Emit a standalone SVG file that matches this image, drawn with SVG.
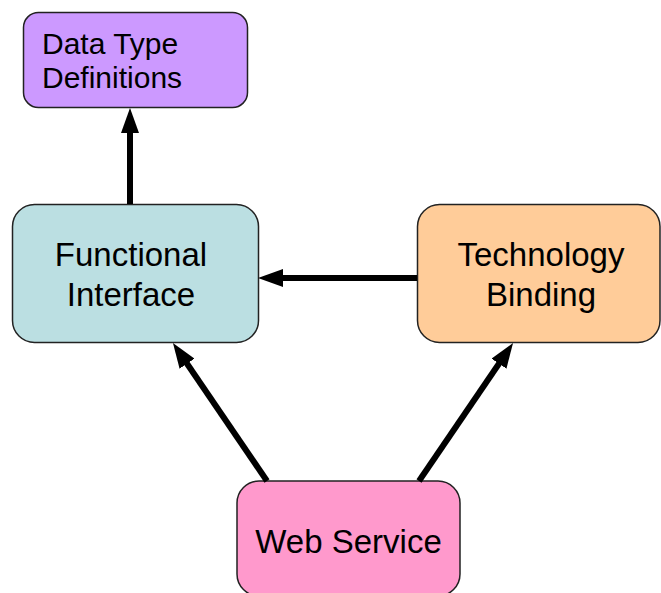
<svg xmlns="http://www.w3.org/2000/svg" width="661" height="593" viewBox="0 0 661 593">
<defs>
<style>
.box{stroke:#222;stroke-width:1.5}
.t{font-family:"Liberation Sans",Arial,sans-serif;fill:#000}
.big{font-size:33px;text-anchor:middle}
.small{font-size:30px}
.c{stroke:#000;stroke-width:6;fill:none}
</style>
<marker id="ah" markerUnits="userSpaceOnUse" markerWidth="26" markerHeight="18" refX="2" refY="9" orient="auto">
<path d="M0,0 L25,9 L0,18 z" fill="#000"/>
</marker>
</defs>
<rect width="661" height="593" fill="#fff"/>
<g id="dtd">
<rect class="box" x="23.5" y="12.5" width="224" height="95" rx="15" fill="#CC99FF"/>
<text class="t small" x="42" y="54">Data Type</text>
<text class="t small" x="42" y="88">Definitions</text>
</g>
<g id="fi">
<rect class="box" x="12.5" y="204.5" width="246" height="138" rx="22" fill="#BBDFE2"/>
<text class="t big" x="131" y="266">Functional</text>
<text class="t big" x="131" y="306">Interface</text>
</g>
<g id="tb">
<rect class="box" x="417.5" y="204.5" width="242.5" height="138" rx="22" fill="#FFCC99"/>
<text class="t big" x="541" y="266">Technology</text>
<text class="t big" x="541" y="306">Binding</text>
</g>
<g id="ws">
<rect class="box" x="237" y="481" width="223" height="115" rx="22" fill="#FF99CC"/>
<text class="t big" x="348.5" y="553">Web Service</text>
</g>
<g id="connectors">
<line class="c" x1="130" y1="204" x2="130" y2="131" marker-end="url(#ah)"/>
<line class="c" x1="417" y1="278" x2="281" y2="278" marker-end="url(#ah)"/>
<line class="c" x1="267" y1="481" x2="185.9" y2="362" marker-end="url(#ah)"/>
<line class="c" x1="419" y1="481" x2="500.1" y2="362" marker-end="url(#ah)"/>
</g>
</svg>
